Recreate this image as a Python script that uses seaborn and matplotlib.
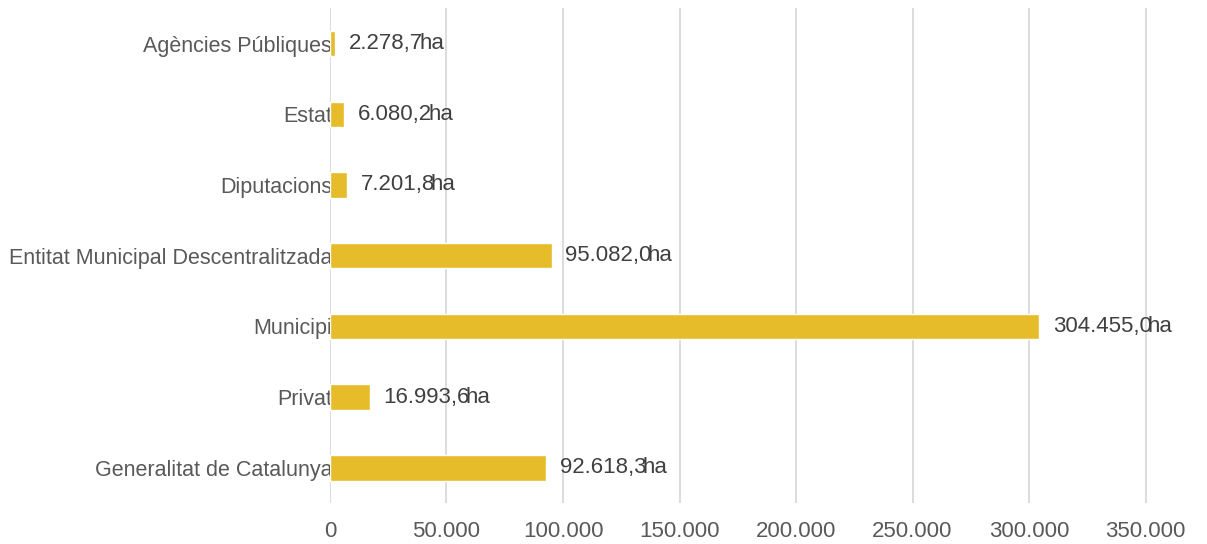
import matplotlib
matplotlib.use("Agg")
import matplotlib.pyplot as plt
import seaborn as sns
import pandas as pd

categories = ["Agències Públiques", "Estat", "Diputacions",
              "Entitat Municipal Descentralitzada", "Municipi", "Privat",
              "Generalitat de Catalunya"]
hectares = [2278.7, 6080.2, 7201.8, 95082.0, 304455.0, 16993.6, 92618.3]
value_labels = ["2.278,7", "6.080,2", "7.201,8", "95.082,0", "304.455,0",
                "16.993,6", "92.618,3"]
x_ticks = [0, 50000, 100000, 150000, 200000, 250000, 300000, 350000]
x_tick_labels = ["0", "50.000", "100.000", "150.000", "200.000", "250.000",
                 "300.000", "350.000"]

df = pd.DataFrame({"categoria": categories, "ha": hectares})

sns.set_theme(style="white")
plt.rcParams["font.family"] = ["Liberation Sans", "DejaVu Sans"]

BAR = "#E6BC2A"
TXT = "#595959"
GRID = "#D9D9D9"
FS = 15.5

fig = plt.figure(figsize=(12.07, 5.44), dpi=100)
ax = fig.add_axes([0.2734, 0.075, 0.951 - 0.2734, 0.91])

# gridlines behind the bars, tick labels stay on top
for xt in x_ticks:
    ax.axvline(xt, color=GRID, linewidth=1.3, zorder=0)

sns.barplot(data=df, x="ha", y="categoria", orient="h", color=BAR,
            saturation=1, width=0.36, ax=ax, zorder=1)

ax.set_xlim(0, 351000)
ax.set_xticks(x_ticks)
ax.set_xticklabels(x_tick_labels)
ax.set_xlabel("")
ax.set_ylabel("")
ax.grid(False)
for s in ax.spines.values():
    s.set_visible(False)
ax.tick_params(axis="x", length=0, pad=13, labelsize=16, labelcolor=TXT)
ax.tick_params(axis="y", length=0, pad=-1.5, labelsize=FS, labelcolor=TXT)

for i, (v, lab) in enumerate(zip(hectares, value_labels)):
    t = ax.annotate(lab, xy=(v, i), xytext=(10, 0), textcoords="offset points",
                    va="center", ha="left", fontsize=16, color="#404040")
    ax.annotate("ha", xy=(1, 0.5), xycoords=t, xytext=(-3, 0),
                textcoords="offset points", va="center", ha="left",
                fontsize=16, color="#404040")

fig.savefig("out.png", dpi=100)
